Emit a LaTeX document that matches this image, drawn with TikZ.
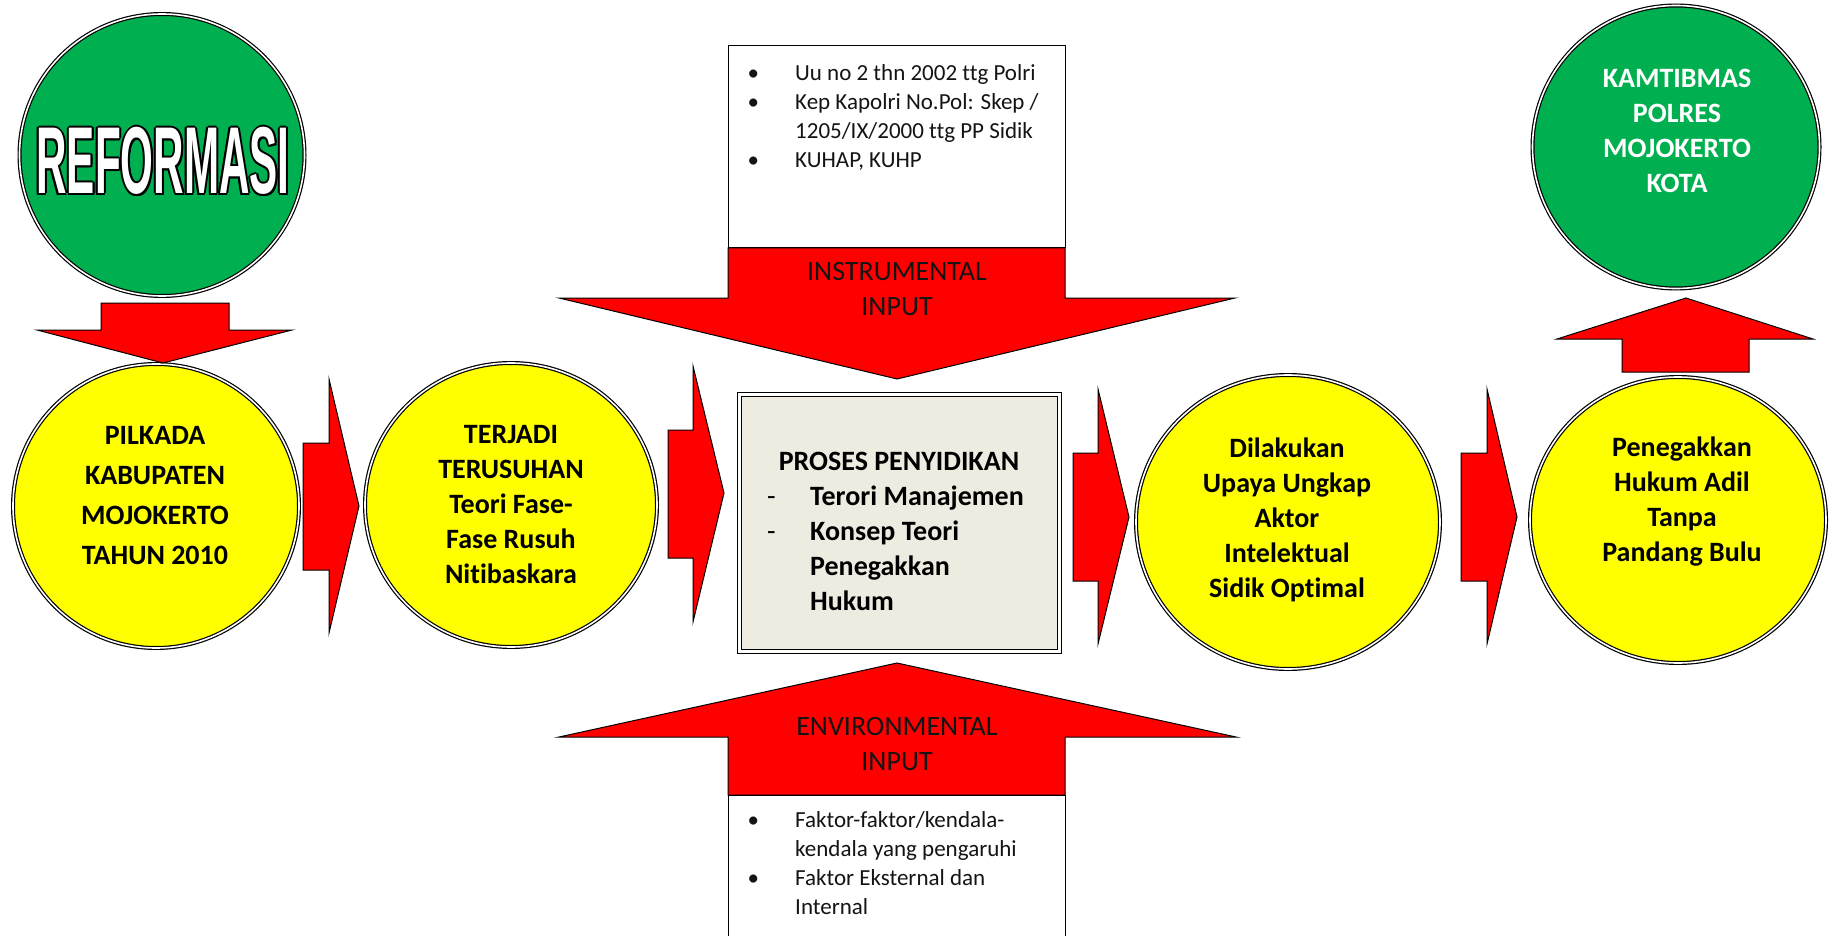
\documentclass[tikz,border=0pt]{standalone}
\usepackage{fontspec}
\setmainfont{Carlito}[Ligatures={NoCommon}]
\newfontfamily\reffont{Liberation Sans}
\usepackage{graphicx}
\usetikzlibrary{shapes.geometric}
\definecolor{ggreen}{HTML}{00B050}
\definecolor{yel}{HTML}{FFFF00}
\definecolor{rd}{HTML}{FF0000}
\definecolor{boxfill}{HTML}{EEECE1}
\definecolor{txt}{HTML}{141414}
\begin{document}
\begin{tikzpicture}[x=1pt,y=-1pt,
  ring/.style={ellipse, draw=black, line width=1.2pt, double=white, double distance=1.6pt, inner sep=0pt, outer sep=0pt},
  gring/.style={ring, fill=ggreen},
  yring/.style={ring, fill=yel},
  blockarrow/.style={fill=rd, draw=black, line width=1pt, line join=miter},
  ctext/.style={font=\fontsize{28}{35}\selectfont\bfseries, align=center, inner sep=0pt, anchor=north},
  ltext/.style={font=\fontsize{23}{29}\selectfont, align=left, inner sep=0pt, anchor=north west, text=txt},
  ttext/.style={font=\fontsize{28}{35}\selectfont, align=center, inner sep=0pt, anchor=north, text=txt},
  reftext/.style={inner sep=0pt, font=\reffont\bfseries\fontsize{95}{95}\selectfont}
]
\useasboundingbox (0,0) rectangle (1829,936);
\fill[white] (0,0) rectangle (1829,936);

% ---- circles
\node[gring, minimum width=285pt, minimum height=282pt] (reform) at (162,155) {};
\node[yring, minimum width=286pt, minimum height=284pt] (pilkada) at (156,506) {};
\node[yring, minimum width=292pt, minimum height=284pt] (terjadi) at (511,505) {};
\node[yring, minimum width=304pt, minimum height=294pt] (dilakukan) at (1288,522) {};
\node[yring, minimum width=296pt, minimum height=286pt] (penegak) at (1678,520) {};
\node[gring, minimum width=287pt, minimum height=283pt] (kamtib) at (1676,147) {};

% ---- REFORMASI outlined text
\foreach \dx/\dy [count=\i] in {-2/0,2/0,0/-2,0/2,-1.5/-1.5,1.5/-1.5,-1.5/1.5,1.5/1.5}
  \node[reftext, text=black] (rs\i) at (163+\dx,161+\dy) {\scalebox{0.444}[1]{REFORMASI}};
\node[reftext, text=white] (reftitle) at (163,161) {\scalebox{0.444}[1]{REFORMASI}};

% ---- circle texts
\node[ctext, font=\fontsize{28}{40}\selectfont\bfseries] (tpil) at (155,426) {PILKADA\\KABUPATEN\\MOJOKERTO\\TAHUN 2010};
\node[ctext] (tter) at (511,425) {TERJADI\\TERUSUHAN\\Teori Fase-\\Fase Rusuh\\Nitibaskara};
\node[ctext] (tdil) at (1287,438) {Dilakukan\\Upaya Ungkap\\Aktor\\Intelektual\\Sidik Optimal};
\node[ctext] (tpen) at (1682,437) {Penegakkan\\Hukum Adil\\Tanpa\\Pandang Bulu};
\node[ctext, text=white] (tkam) at (1677,69) {KAMTIBMAS\\POLRES\\MOJOKERTO\\KOTA};

% ---- block arrows
\draw[blockarrow] (101,303) -- (229,303) -- (229,330) -- (292,330) -- (163,363) -- (37,330) -- (101,330) -- cycle;
\draw[blockarrow] (303,443) -- (329,443) -- (329,379) -- (359,506) -- (329,633) -- (329,570) -- (303,570) -- cycle;
\draw[blockarrow] (668,430) -- (693,430) -- (693,366) -- (724,493) -- (693,622) -- (693,558) -- (668,558) -- cycle;
\draw[blockarrow] (1073,453) -- (1098,453) -- (1098,389) -- (1129,517) -- (1098,644) -- (1098,581) -- (1073,581) -- cycle;
\draw[blockarrow] (1461,453) -- (1487,453) -- (1487,389) -- (1517,517) -- (1487,644) -- (1487,581) -- (1461,581) -- cycle;
\draw[blockarrow] (1622,372) -- (1622,339) -- (1557,339) -- (1686,298) -- (1813,339) -- (1749,339) -- (1749,372) -- cycle;

% ---- instrumental input
\draw[fill=white, line width=1pt] (728,46) rectangle (1065,248);
\draw[blockarrow] (728,248) -- (1065,248) -- (1065,298) -- (1235,298) -- (897,379) -- (559,298) -- (728,298) -- cycle;
\node[ltext] (ilist) at (747.5,64) {\makebox[47.5pt][l]{\textbullet}Uu no 2 thn 2002 ttg Polri\\
  \makebox[47.5pt][l]{\textbullet}Kep Kapolri No.Pol: Skep /\\
  \hspace*{47.5pt}1205/IX/2000 ttg PP Sidik\\
  \makebox[47.5pt][l]{\textbullet}KUHAP, KUHP};
\node[ttext] (ititle) at (897,262) {INSTRUMENTAL\\INPUT};

% ---- environmental input
\draw[blockarrow] (897,663) -- (1236,737) -- (1065,737) -- (1065,795) -- (728,795) -- (728,737) -- (559,737) -- cycle;
\fill[white] (728,795) rectangle (1065,937);
\draw[line width=1pt] (728,937) -- (728,795) -- (1065,795) -- (1065,937);
\node[ttext] (etitle) at (897,717) {ENVIRONMENTAL\\INPUT};
\node[ltext] (elist) at (747.5,811) {\makebox[47.5pt][l]{\textbullet}Faktor-faktor/kendala-\\
  \hspace*{47.5pt}kendala yang pengaruhi\\
  \makebox[47.5pt][l]{\textbullet}Faktor Eksternal dan\\
  \hspace*{47.5pt}Internal};

% ---- proses penyidikan box
\node[draw=black, line width=1.2pt, double=white, double distance=2.5pt, fill=boxfill,
      minimum width=320pt, minimum height=257pt, inner sep=0pt] (proses) at (899.5,523) {};
\node[inner sep=0pt, anchor=base, font=\fontsize{28}{35}\selectfont\bfseries] (ptitle) at (899,470) {PROSES PENYIDIKAN};
\node[inner sep=0pt, anchor=north west, align=left, font=\fontsize{28}{35}\selectfont\bfseries] (plist) at (767,486)
  {\makebox[43pt][l]{\mdseries -}Terori Manajemen\\
   \makebox[43pt][l]{\mdseries -}Konsep Teori\\
   \hspace*{43pt}Penegakkan\\
   \hspace*{43pt}Hukum};
\end{tikzpicture}
\end{document}
